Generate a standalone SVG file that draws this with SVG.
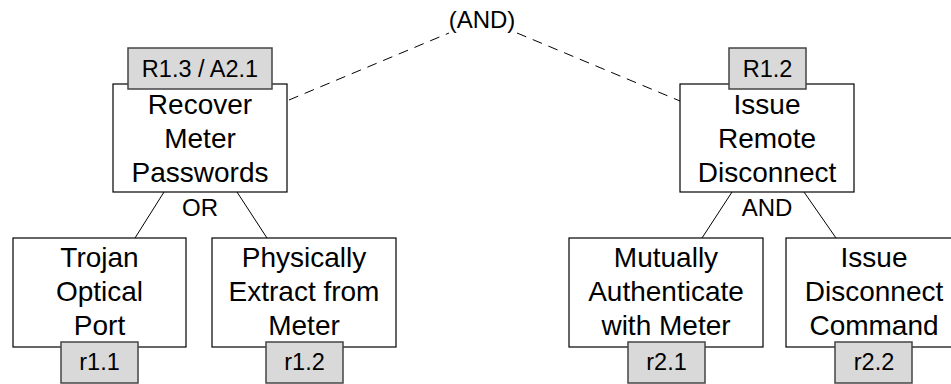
<svg xmlns="http://www.w3.org/2000/svg" width="951" height="384" viewBox="0 0 951 384">
  <style>
    .box { fill: #ffffff; stroke: #000000; stroke-width: 1.2; }
    .tag { fill: #d9d9d9; stroke: #444444; stroke-width: 1.5; }
    .label { font-family: "Liberation Sans", Arial, Helvetica, sans-serif; font-size: 28px; fill: #000000; text-anchor: middle; }
    .tagtxt { font-family: "Liberation Sans", Arial, Helvetica, sans-serif; font-size: 23.5px; fill: #000000; text-anchor: middle; }
    .gate { font-family: "Liberation Sans", Arial, Helvetica, sans-serif; font-size: 24px; fill: #000000; text-anchor: middle; }
    .edge { stroke: #000000; stroke-width: 1; fill: none; }
    .dashed { stroke: #000000; stroke-width: 1; fill: none; stroke-dasharray: 10 7; }
  </style>

  <rect width="951" height="384" fill="#ffffff"/>

  <!-- connectors -->
  <g id="connectors">
    <line class="dashed" x1="289" y1="100" x2="449" y2="33"/>
    <line class="dashed" x1="517" y1="33" x2="680" y2="101"/>
    <line class="edge" x1="164" y1="192" x2="135" y2="238"/>
    <line class="edge" x1="237" y1="192" x2="267" y2="238"/>
    <line class="edge" x1="732" y1="192" x2="702" y2="238"/>
    <line class="edge" x1="804" y1="192" x2="836" y2="238"/>
  </g>

  <!-- gate labels -->
  <g id="gates">
    <text class="gate" x="482" y="28">(AND)</text>
    <text class="gate" x="200" y="216">OR</text>
    <text class="gate" x="767" y="216">AND</text>
  </g>

  <!-- root-level goals -->
  <g id="recover-meter-passwords">
    <rect class="box" x="113" y="84" width="174" height="108"/>
    <text class="label" x="200" y="114">Recover</text>
    <text class="label" x="200" y="148">Meter</text>
    <text class="label" x="200" y="182">Passwords</text>
    <rect class="tag" x="128" y="48" width="144" height="41"/>
    <text class="tagtxt" x="200" y="77">R1.3 / A2.1</text>
  </g>

  <g id="issue-remote-disconnect">
    <rect class="box" x="680" y="84" width="174" height="108"/>
    <text class="label" x="767" y="114">Issue</text>
    <text class="label" x="767" y="148">Remote</text>
    <text class="label" x="767" y="182">Disconnect</text>
    <rect class="tag" x="729" y="48" width="77" height="41"/>
    <text class="tagtxt" x="767.5" y="77">R1.2</text>
  </g>

  <!-- leaf goals -->
  <g id="trojan-optical-port">
    <rect class="box" x="13" y="238" width="173" height="109"/>
    <text class="label" x="99.5" y="267">Trojan</text>
    <text class="label" x="99.5" y="301">Optical</text>
    <text class="label" x="99.5" y="335">Port</text>
    <rect class="tag" x="61" y="342" width="77" height="41"/>
    <text class="tagtxt" x="99.5" y="370">r1.1</text>
  </g>

  <g id="physically-extract">
    <rect class="box" x="212" y="238" width="184" height="109"/>
    <text class="label" x="304" y="267">Physically</text>
    <text class="label" x="304" y="301">Extract from</text>
    <text class="label" x="304" y="335">Meter</text>
    <rect class="tag" x="266" y="342" width="77" height="41"/>
    <text class="tagtxt" x="304.5" y="370">r1.2</text>
  </g>

  <g id="mutually-authenticate">
    <rect class="box" x="569" y="238" width="194" height="109"/>
    <text class="label" x="666" y="267">Mutually</text>
    <text class="label" x="666" y="301">Authenticate</text>
    <text class="label" x="666" y="335">with Meter</text>
    <rect class="tag" x="628" y="342" width="77" height="41"/>
    <text class="tagtxt" x="666.5" y="370">r2.1</text>
  </g>

  <g id="issue-disconnect-command">
    <rect class="box" x="786" y="238" width="176" height="109"/>
    <text class="label" x="874" y="267">Issue</text>
    <text class="label" x="874" y="301">Disconnect</text>
    <text class="label" x="874" y="335">Command</text>
    <rect class="tag" x="835" y="342" width="77" height="41"/>
    <text class="tagtxt" x="874" y="370">r2.2</text>
  </g>
</svg>
